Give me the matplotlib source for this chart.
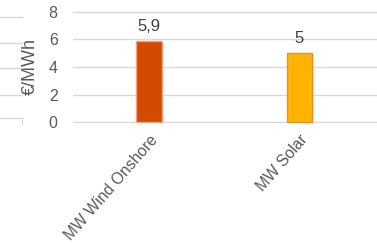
import matplotlib
matplotlib.use("Agg")
import matplotlib.pyplot as plt
from matplotlib.lines import Line2D

categories = ["MW Wind Onshore", "MW Solar"]
values = [5.9, 5.0]
value_labels = ["5,9", "5"]
yticks = [0, 2, 4, 6, 8]
ylabel = "€/MWh"

face_colors = ["#D24B00", "#FFB500"]
edge_colors = ["#EFA27C", "#EF8A2A"]

plt.rcParams['font.family'] = ['Liberation Sans', 'DejaVu Sans']
W, H = 377, 244
fig = plt.figure(figsize=(W / 100, H / 100), dpi=100)
ax = fig.add_axes([73 / W, 1 - 122.7 / H, (W - 73) / W, (122.7 - 11.3) / H])

x = list(range(len(categories)))
ax.bar(x, values, width=0.17, color=face_colors, edgecolor=edge_colors, linewidth=1.0, zorder=3)
for xi, v, lab in zip(x, values, value_labels):
    ax.annotate(lab, (xi, v), xytext=(0, 7.2), textcoords="offset points",
                ha="center", va="baseline", fontsize=12, color="#404040")

ax.set_xlim(-0.505, 1.515)
ax.set_ylim(-0.05, 8.05)
ax.set_yticks(yticks)
ax.set_yticklabels([str(t) for t in yticks], fontsize=11.5, color="#595959")
ax.set_xticks(x)
ax.set_xticklabels(categories, rotation=49, ha="right", va="top", rotation_mode="anchor",
                   fontsize=11.3, color="#595959")
ax.tick_params(axis="both", length=0)
ax.tick_params(axis="y", pad=11)
ax.tick_params(axis="x", pad=7)
for s in ax.spines.values():
    s.set_visible(False)
ax.yaxis.grid(True, color="#D9D9D9", linewidth=1.0, zorder=0)
ax.set_axisbelow(True)
ax.set_ylabel(ylabel, fontsize=13, color="#595959")
ax.yaxis.set_label_coords(-(73 - 39) / (W - 73), 0.5)

# remnants of neighbouring chart at the left edge
for yy in [17, 43, 68, 95, 118]:
    fig.add_artist(Line2D([0, 22 / W], [1 - yy / H, 1 - yy / H], color="#D9D9D9", linewidth=1.0))
fig.add_artist(Line2D([22 / W, 22 / W], [1 - 118 / H, 1 - 124 / H], color="#D9D9D9", linewidth=1.0))

fig.savefig("out.png", dpi=100)
